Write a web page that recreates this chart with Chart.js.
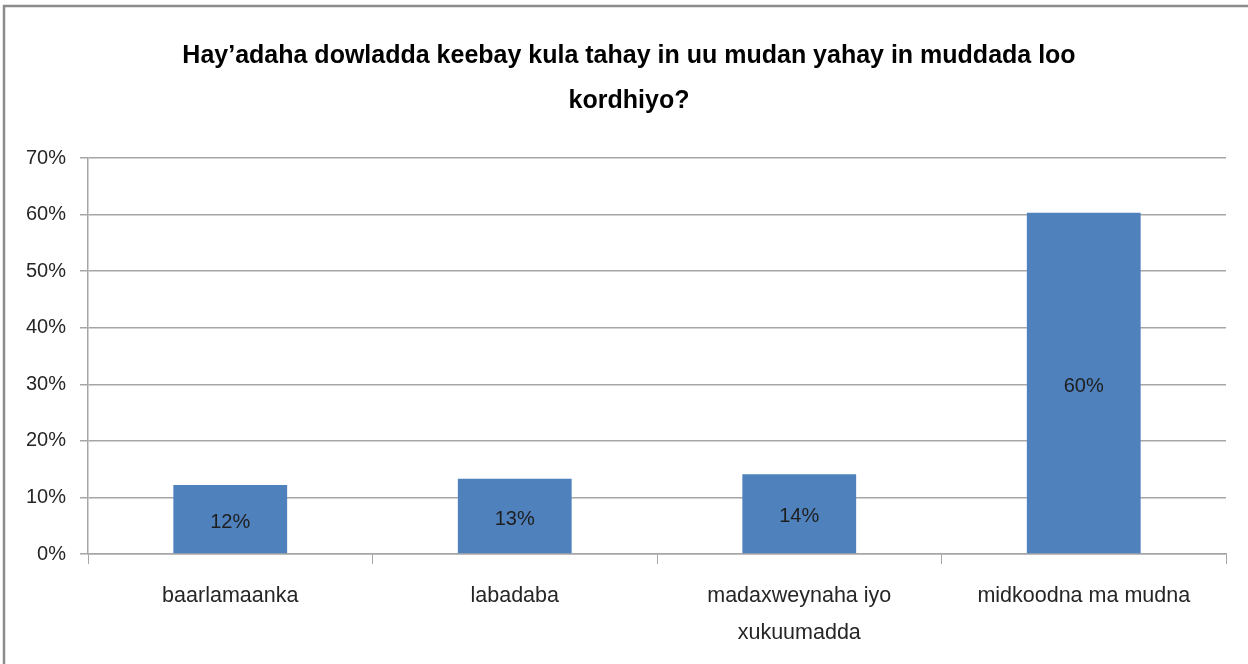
<!DOCTYPE html>
<html>
<head>
<meta charset="utf-8">
<script src="https://cdn.jsdelivr.net/npm/chart.js@4/dist/chart.umd.min.js"></script>
<style>
  html, body { margin: 0; padding: 0; background: #ffffff; }
  #wrap { width: 1248px; height: 664px; }
</style>
</head>
<body>
<div id="wrap"><canvas id="c" width="1248" height="664"></canvas></div>
<script>
const titleLines = ["Hay\u2019adaha dowladda keebay kula tahay in uu mudan yahay in muddada loo", "kordhiyo?"];
const categories = [["baarlamaanka"], ["labadaba"], ["madaxweynaha iyo", "xukuumadda"], ["midkoodna ma mudna"]];
const values = [12.2, 13.3, 14.1, 60.3];
const yTicks = [0, 10, 20, 30, 40, 50, 60, 70];

const FONT = "'Liberation Sans', Arial, sans-serif";
const GRID = '#a6a6a6';

const frame = {
  id: 'frame',
  beforeDraw(chart) {
    const ctx = chart.ctx;
    ctx.save();
    ctx.fillStyle = '#ffffff';
    ctx.fillRect(0, 0, chart.width, chart.height);
    ctx.strokeStyle = '#8c8c8c';
    ctx.lineWidth = 2.5;
    ctx.beginPath();
    ctx.moveTo(4, chart.height);
    ctx.lineTo(4, 6);
    ctx.lineTo(chart.width, 6);
    ctx.stroke();
    // title
    ctx.fillStyle = '#000000';
    ctx.font = 'bold 25px ' + FONT;
    ctx.textAlign = 'center';
    ctx.textBaseline = 'middle';
    titleLines.forEach((t, i) => ctx.fillText(t, 629, 56 + i * 45));
    ctx.restore();
  }
};

const barLabels = {
  id: 'barLabels',
  afterDatasetsDraw(chart) {
    const ctx = chart.ctx;
    const meta = chart.getDatasetMeta(0);
    ctx.save();
    ctx.font = '20px ' + FONT;
    ctx.fillStyle = '#1e1e1e';
    ctx.textAlign = 'center';
    ctx.textBaseline = 'middle';
    meta.data.forEach((bar, i) => {
      const v = chart.data.datasets[0].data[i];
      ctx.fillText(Math.round(v) + '%', bar.x, (bar.y + bar.base) / 2 + 3);
    });
    ctx.restore();
  }
};

new Chart(document.getElementById('c'), {
  type: 'bar',
  data: {
    labels: categories,
    datasets: [{
      data: values,
      backgroundColor: '#4f81bd',
      borderWidth: 0,
      barPercentage: 0.4,
      categoryPercentage: 1.0
    }]
  },
  options: {
    responsive: false,
    animation: false,
    layout: { padding: { left: 0, right: 22, top: 158, bottom: 0 } },
    plugins: {
      legend: { display: false },
      tooltip: { enabled: false },
      title: { display: false }
    },
    scales: {
      x: {
        grid: { display: true, drawOnChartArea: false, drawTicks: true, tickLength: 10, color: GRID, offset: true },
        border: { display: true, color: GRID, width: 1.5 },
        ticks: {
          color: '#262626',
          font: { family: FONT, size: 21.5, lineHeight: 1.72 },
          maxRotation: 0,
          autoSkip: false,
          padding: 14
        },
        afterFit(scale) { scale.height = 110; }
      },
      y: {
        min: 0,
        max: 70,
        grid: { color: GRID, lineWidth: 1.5, tickLength: 8, drawTicks: true },
        border: { display: true, color: GRID, width: 1.5 },
        afterBuildTicks(scale) { scale.ticks = yTicks.map(v => ({ value: v })); },
        ticks: {
          color: '#262626',
          font: { family: FONT, size: 20 },
          padding: 14,
          callback: v => v + '%'
        },
        afterFit(scale) { scale.width = 88; }
      }
    }
  },
  plugins: [frame, barLabels]
});
</script>
</body>
</html>
